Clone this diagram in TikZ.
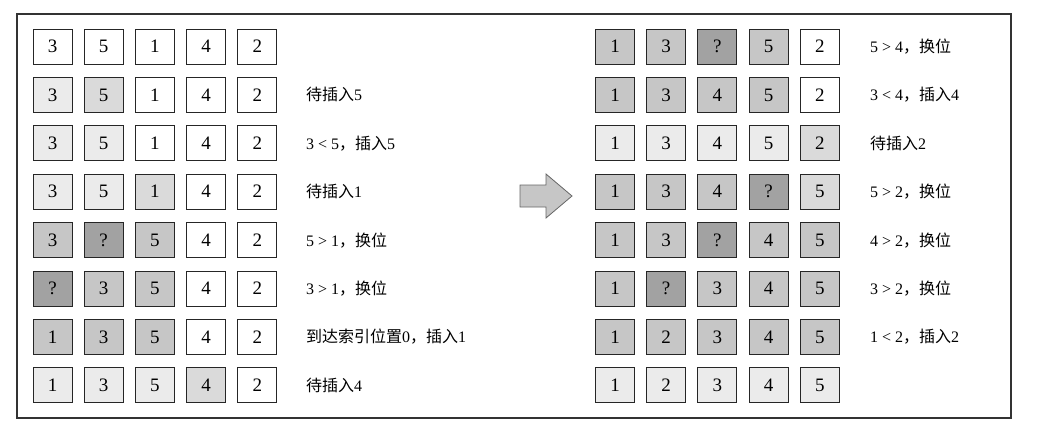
\documentclass[tikz,border=0pt]{standalone}
\usepackage{fontspec}
\setmainfont{Liberation Serif}
\newfontfamily\cjk{Noto Sans CJK SC}
\definecolor{cW}{HTML}{FFFFFF}
\definecolor{cl}{HTML}{EBEBEB}
\definecolor{cm}{HTML}{DADADA}
\definecolor{cg}{HTML}{C6C6C6}
\definecolor{cd}{HTML}{A2A2A2}
\tikzset{
  cell/.style={draw=black!85,line width=1pt,minimum width=39pt,minimum height=35pt,inner sep=0pt,font=\fontsize{19}{19}\selectfont},
  lab/.style={anchor=west,inner sep=0pt,font=\fontsize{16}{16}\selectfont},
}
\begin{document}
\begin{tikzpicture}[x=1pt,y=-1pt]
\useasboundingbox (0,0) rectangle (1048,434);
\draw[line width=1.2pt,draw=black!80] (17,14) rectangle (1011,418);
% left block
\foreach \r/\cells/\txt [count=\i] in {
 0/{3/cW,5/cW,1/cW,4/cW,2/cW}/{},
 1/{3/cl,5/cm,1/cW,4/cW,2/cW}/{{\cjk 待插入}5},
 2/{3/cl,5/cl,1/cW,4/cW,2/cW}/{3 < 5{\cjk ，插入}5},
 3/{3/cl,5/cl,1/cm,4/cW,2/cW}/{{\cjk 待插入}1},
 4/{3/cg,?/cd,5/cg,4/cW,2/cW}/{5 > 1{\cjk ，换位}},
 5/{?/cd,3/cg,5/cg,4/cW,2/cW}/{3 > 1{\cjk ，换位}},
 6/{1/cg,3/cg,5/cg,4/cW,2/cW}/{{\cjk 到达索引位置}0{\cjk ，插入}1},
 7/{1/cl,3/cl,5/cl,4/cm,2/cW}/{{\cjk 待插入}4}}{
  \foreach \v/\c [count=\j] in \cells {
    \node[cell,fill=\c] (L\i-\j) at ({52.5+51.2*(\j-1)},{46.5+48.4*\r}) {\v};
  }
  \node[lab] (LT\i) at (306,{46.5+48.4*\r}) {\txt};
}
% right block
\foreach \r/\cells/\txt [count=\i] in {
 0/{1/cg,3/cg,?/cd,5/cg,2/cW}/{5 > 4{\cjk ，换位}},
 1/{1/cg,3/cg,4/cg,5/cg,2/cW}/{3 < 4{\cjk ，插入}4},
 2/{1/cl,3/cl,4/cl,5/cl,2/cm}/{{\cjk 待插入}2},
 3/{1/cg,3/cg,4/cg,?/cd,5/cm}/{5 > 2{\cjk ，换位}},
 4/{1/cg,3/cg,?/cd,4/cg,5/cg}/{4 > 2{\cjk ，换位}},
 5/{1/cg,?/cd,3/cg,4/cg,5/cg}/{3 > 2{\cjk ，换位}},
 6/{1/cg,2/cg,3/cg,4/cg,5/cg}/{1 < 2{\cjk ，插入}2},
 7/{1/cl,2/cl,3/cl,4/cl,5/cl}/{}}{
  \foreach \v/\c [count=\j] in \cells {
    \node[cell,fill=\c] (R\i-\j) at ({615+51.2*(\j-1)},{46.5+48.4*\r}) {\v};
  }
  \node[lab] (RT\i) at (870,{46.5+48.4*\r}) {\txt};
}
% arrow
\draw[fill=cg,draw=black!60,line width=0.8pt] (520,185) -- (546,185) -- (546,174) -- (572,196) -- (546,218) -- (546,207) -- (520,207) -- cycle;
\end{tikzpicture}
\end{document}
